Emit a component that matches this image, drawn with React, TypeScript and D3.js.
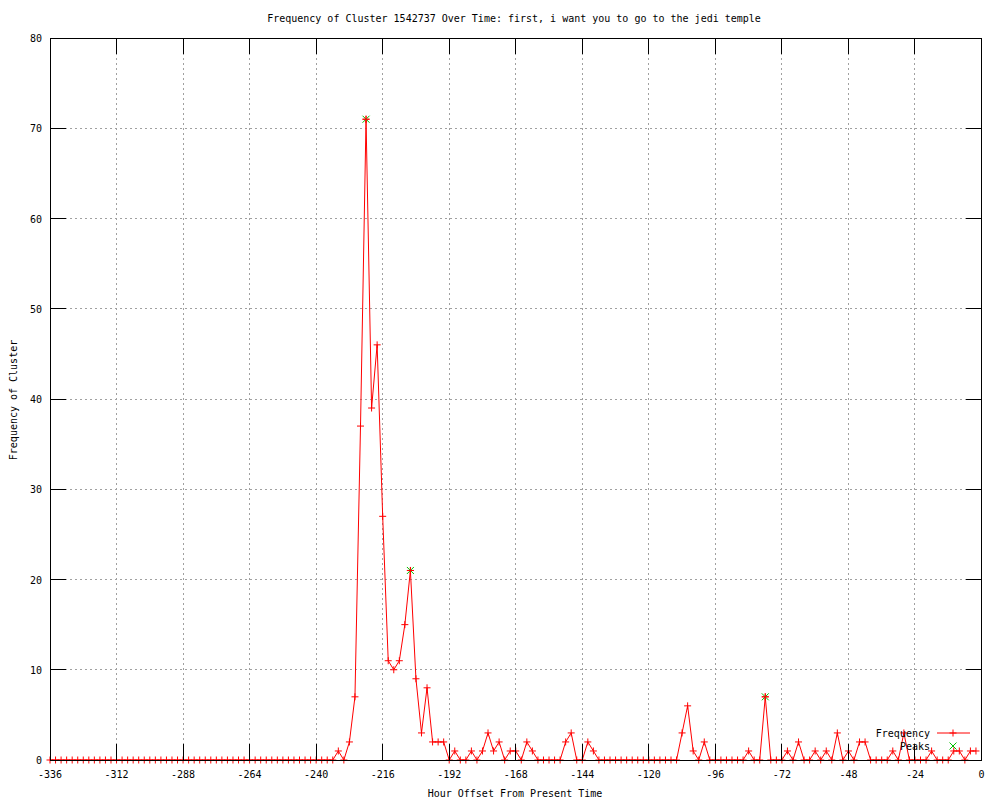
import React from "react";
import * as d3 from "d3";

const hours: number[] = [];
for (let h = -336; h <= -2; h += 2) hours.push(h);

// frequency values for hours -336 .. -2 step 2
const freqLeadingZeros = 52; // -336 .. -234
const freqTail: number[] = [
  1, 0, 2, 7, 37, 71, 39, 46, 27, 11, 10, 11, 15, 21, 9, 3, 8, 2, 2, 2, // -232 .. -194
  0, 1, 0, 0, 1, 0, 1, 3, 1, 2, 0, 1, 1, 0, 2, 1, 0, 0, 0, 0, // -192 .. -154
  0, 2, 3, 0, 0, 2, 1, 0, 0, 0, 0, 0, 0, 0, 0, 0, 0, 0, 0, 0, // -152 .. -114
  0, 0, 3, 6, 1, 0, 2, 0, 0, 0, 0, 0, 0, 0, 1, 0, 0, 7, 0, 0, // -112 .. -74
  0, 1, 0, 2, 0, 0, 1, 0, 1, 0, 3, 0, 1, 0, 2, 2, 0, 0, 0, 0, // -72 .. -34
  1, 0, 3, 0, 0, 0, 0, 1, 0, 0, 0, 1, 1, 0, 1, 1, // -32 .. -2
];
const freqValues: number[] = [...new Array(freqLeadingZeros).fill(0), ...freqTail];

const peakHours: number[] = [-222, -206, -78];
const peakValues: number[] = [71, 21, 7];

const xTicks: number[] = [-336, -312, -288, -264, -240, -216, -192, -168, -144, -120, -96, -72, -48, -24, 0];
const yTicks: number[] = [0, 10, 20, 30, 40, 50, 60, 70, 80];

const titleText = "Frequency of Cluster 1542737 Over Time: first, i want you to go to the jedi temple";
const xLabel = "Hour Offset From Present Time";
const yLabel = "Frequency of Cluster";

const W = 1000;
const H = 800;
const L = 50, R = 981.5, T = 38, B = 760;
const FONT = "'DejaVu Sans Mono', 'Liberation Mono', monospace";

export default function App() {
  const x = d3.scaleLinear().domain([-336, 0]).range([L, R]);
  const y = d3.scaleLinear().domain([0, 80]).range([B, T]);
  const pts = hours.map((h, i) => [h, freqValues[i]] as [number, number]);
  const line = d3.line<[number, number]>().x((d) => x(d[0])).y((d) => y(d[1]));
  const tick = 16;
  const plus = (cx: number, cy: number, s: number, color: string, key: string) => (
    <path key={key} d={`M${cx - s},${cy}H${cx + s}M${cx},${cy - s}V${cy + s}`} stroke={color} strokeWidth={1} fill="none" />
  );
  const cross = (cx: number, cy: number, s: number, color: string, key: string) => (
    <path key={key} d={`M${cx - s},${cy - s}L${cx + s},${cy + s}M${cx - s},${cy + s}L${cx + s},${cy - s}`} stroke={color} strokeWidth={1} fill="none" />
  );
  return (
    <svg width={W} height={H} style={{ position: "absolute", left: 0, top: 0, background: "#fff" }} fontFamily={FONT} fontSize={10}>
      <rect x={0} y={0} width={W} height={H} fill="#fff" />
      {/* grid */}
      <g stroke="#a0a0a0" strokeWidth={1} strokeDasharray="2,3" shapeRendering="crispEdges">
        {xTicks.slice(1, -1).map((t) => (
          <line key={"gx" + t} x1={x(t)} x2={x(t)} y1={T} y2={B} />
        ))}
        {yTicks.slice(1, -1).map((t) => (
          <line key={"gy" + t} x1={L} x2={R} y1={y(t)} y2={y(t)} />
        ))}
      </g>
      {/* data line */}
      <path d={line(pts) || ""} stroke="#ff0000" strokeWidth={1} fill="none" />
      {pts.map((p, i) => plus(x(p[0]), y(p[1]), 3.5, "#ff0000", "p" + i))}
      {peakHours.map((h, i) => cross(x(h), y(peakValues[i]), 3.5, "#00c000", "k" + i))}
      {peakHours.map((h, i) => plus(x(h), y(peakValues[i]), 3.5, "#ff0000", "kp" + i))}
      {/* border and ticks */}
      <g stroke="#000" strokeWidth={1} fill="none" shapeRendering="crispEdges">
        <rect x={L} y={T} width={R - L} height={B - T} />
        {xTicks.map((t) => (
          <g key={"tx" + t}>
            <line x1={x(t)} x2={x(t)} y1={B} y2={B - tick} />
            <line x1={x(t)} x2={x(t)} y1={T} y2={T + tick} />
          </g>
        ))}
        {yTicks.map((t) => (
          <g key={"ty" + t}>
            <line x1={L} x2={L + tick} y1={y(t)} y2={y(t)} />
            <line x1={R} x2={R - tick} y1={y(t)} y2={y(t)} />
          </g>
        ))}
      </g>
      {/* tick labels */}
      <g fill="#000">
        {xTicks.map((t) => (
          <text key={"lx" + t} x={x(t)} y={778} textAnchor="middle">{t === 0 ? "0" : "-" + Math.abs(t)}</text>
        ))}
        {yTicks.map((t) => (
          <text key={"ly" + t} x={42} y={y(t) + 4} textAnchor="end">{t}</text>
        ))}
        <text x={514} y={22} textAnchor="middle">{titleText}</text>
        <text x={515} y={797} textAnchor="middle">{xLabel}</text>
        <text x={0} y={0} transform="translate(17,400) rotate(-90)" textAnchor="middle">{yLabel}</text>
      </g>
      {/* legend */}
      <g>
        <text x={930} y={737} textAnchor="end" fill="#000">Frequency</text>
        <line x1={937} x2={970} y1={733} y2={733} stroke="#ff0000" strokeWidth={1} />
        {plus(953, 733, 3.5, "#ff0000", "lg1")}
        <text x={930} y={750} textAnchor="end" fill="#000">Peaks</text>
        {cross(953, 746, 3.5, "#00c000", "lg2")}
      </g>
    </svg>
  );
}
